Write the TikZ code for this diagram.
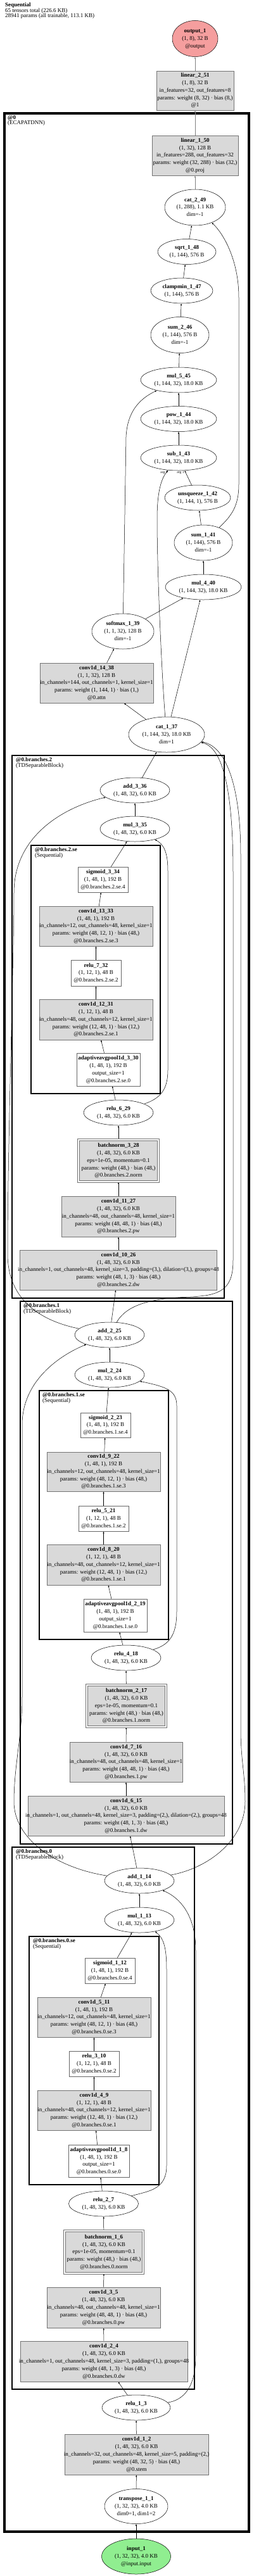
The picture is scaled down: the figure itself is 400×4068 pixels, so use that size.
\documentclass[tikz,border=0pt]{standalone}
\usepackage{fontspec}
\setmainfont{Liberation Serif}
\usetikzlibrary{arrows.meta,shapes.geometric,backgrounds}
\definecolor{outred}{RGB}{245,158,158}
\definecolor{ingreen}{RGB}{144,238,144}
\definecolor{layergray}{RGB}{217,217,217}
\newcommand{\nodetxt}[2]{\makebox[0pt]{\begin{tabular}{@{}c@{}}\textbf{#1}\\#2\end{tabular}}}
\tikzset{
  every node/.style={font=\fontsize{9}{11.8}\selectfont},
  sz/.style n args={2}{minimum width=#1pt, minimum height=#2pt},
  op/.style={draw, ellipse, inner sep=0pt, line width=0.5pt},
  layer/.style={draw=black!55, fill=layergray, inner sep=0pt, line width=0.6pt},
  act/.style={draw=black!60, fill=white, inner sep=0pt, line width=0.6pt},
  norm/.style={layer, double=white, double distance=2pt},
  cluster/.style={line width=2.2pt},
  group/.style={anchor=north west, align=left, inner sep=0pt, font=\fontsize{9}{8.6}\selectfont},
  argl/.style={inner sep=0pt, font=\fontsize{5.5}{6}\selectfont},
  ->/.style={-{Latex[length=3pt,width=2.4pt]}, line width=0.5pt},
  flow/.style={->, draw=black!50, line width=0.9pt}
}

\begin{document}
\begin{tikzpicture}[x=1pt,y=-1pt]
\useasboundingbox (0,0) rectangle (400,4068);

% Header
\node[group, font=\fontsize{9}{8.4}\selectfont] (title) at (8,4.5) {\textbf{Sequential}\\65 tensors total (226.6 KB)\\28941 params (all trainable, 113.1 KB)};

% Output head
\node[op, fill=outred, sz={72}{57}] (output1) at (308,61) {\nodetxt{output\_1}{(1, 8), 32 B\\@output}};
\node[layer, sz={122}{62}] (lin251) at (308,143) {\nodetxt{linear\_2\_51}{(1, 8), 32 B\\in\_features=32, out\_features=8\\params: weight (8, 32) · bias (8,)\\@1}};

% Statistics pooling and projection
\node[layer, sz={136}{63}] (lin150) at (308,245.5) {\nodetxt{linear\_1\_50}{(1, 32), 128 B\\in\_features=288, out\_features=32\\params: weight (32, 288) · bias (32,)\\@0.proj}};
\node[op, sz={96}{57}] (cat249) at (308,327.5) {\nodetxt{cat\_2\_49}{(1, 288), 1.1 KB\\dim=-1}};
\node[op, sz={92}{40}] (sqrt148) at (295,397.5) {\nodetxt{sqrt\_1\_48}{(1, 144), 576 B}};
\node[op, sz={98}{40}] (clamp147) at (287,459) {\nodetxt{clampmin\_1\_47}{(1, 144), 576 B}};
\node[op, sz={92}{57}] (sum246) at (284,529) {\nodetxt{sum\_2\_46}{(1, 144), 576 B\\dim=-1}};
\node[op, sz={120}{40}] (mul545) at (282,600) {\nodetxt{mul\_5\_45}{(1, 144, 32), 18.0 KB}};
\node[op, sz={120}{40}] (pow144) at (282,661.5) {\nodetxt{pow\_1\_44}{(1, 144, 32), 18.0 KB}};
\node[op, sz={120}{40}] (sub143) at (282,723) {\nodetxt{sub\_1\_43}{(1, 144, 32), 18.0 KB}};
\node[op, sz={104}{40}] (unsq142) at (312,786) {\nodetxt{unsqueeze\_1\_42}{(1, 144, 1), 576 B}};
\node[op, sz={92}{56}] (sum141) at (321,857) {\nodetxt{sum\_1\_41}{(1, 144), 576 B\\dim=-1}};
\node[op, sz={120}{40}] (mul440) at (321,927) {\nodetxt{mul\_4\_40}{(1, 144, 32), 18.0 KB}};
\node[op, sz={98}{56}] (soft139) at (194,997) {\nodetxt{softmax\_1\_39}{(1, 1, 32), 128 B\\dim=-1}};
\node[layer, sz={179}{63}] (conv1438) at (152.5,1078.5) {\nodetxt{conv1d\_14\_38}{(1, 1, 32), 128 B\\in\_channels=144, out\_channels=1, kernel\_size=1\\params: weight (1, 144, 1) · bias (1,)\\@0.attn}};
\node[op, sz={120}{56}] (cat137) at (263,1160) {\nodetxt{cat\_1\_37}{(1, 144, 32), 18.0 KB\\dim=1}};
\node[argl] (arg0) at (259,746) {arg 0};
\node[argl] (arg1) at (285,746) {arg 1};

% Branch 2
\node[op, sz={110}{40}] (add336) at (213,1248) {\nodetxt{add\_3\_36}{(1, 48, 32), 6.0 KB}};
\node[op, sz={110}{40}] (mul335) at (213,1309) {\nodetxt{mul\_3\_35}{(1, 48, 32), 6.0 KB}};
\node[act, sz={79}{40}] (sig334) at (162.5,1389) {\nodetxt{sigmoid\_3\_34}{(1, 48, 1), 192 B\\@0.branches.2.se.4}};
\node[layer, sz={179}{63}] (conv1333) at (151.5,1462.5) {\nodetxt{conv1d\_13\_33}{(1, 48, 1), 192 B\\in\_channels=12, out\_channels=48, kernel\_size=1\\params: weight (48, 12, 1) · bias (48,)\\@0.branches.2.se.3}};
\node[act, sz={79}{41}] (relu732) at (151.5,1536.5) {\nodetxt{relu\_7\_32}{(1, 12, 1), 48 B\\@0.branches.2.se.2}};
\node[layer, sz={179}{64}] (conv1231) at (151.5,1610) {\nodetxt{conv1d\_12\_31}{(1, 12, 1), 48 B\\in\_channels=48, out\_channels=12, kernel\_size=1\\params: weight (12, 48, 1) · bias (12,)\\@0.branches.2.se.1}};
\node[act, sz={100}{52}] (pool330) at (171,1689) {\nodetxt{adaptiveavgpool1d\_3\_30}{(1, 48, 1), 192 B\\output\_size=1\\@0.branches.2.se.0}};
\node[op, sz={110}{40}] (relu629) at (187,1757) {\nodetxt{relu\_6\_29}{(1, 48, 32), 6.0 KB}};
\node[norm, sz={126}{66}] (bn328) at (187,1833) {\nodetxt{batchnorm\_3\_28}{(1, 48, 32), 6.0 KB\\eps=1e-05, momentum=0.1\\params: weight (48,) · bias (48,)\\@0.branches.2.norm}};
\node[layer, sz={180}{64}] (conv1127) at (187,1921) {\nodetxt{conv1d\_11\_27}{(1, 48, 32), 6.0 KB\\in\_channels=48, out\_channels=48, kernel\_size=1\\params: weight (48, 48, 1) · bias (48,)\\@0.branches.2.pw}};
\node[layer, sz={311}{63}] (conv1026) at (187,2005.5) {\nodetxt{conv1d\_10\_26}{(1, 48, 32), 6.0 KB\\in\_channels=1, out\_channels=48, kernel\_size=3, padding=(3,), dilation=(3,), groups=48\\params: weight (48, 1, 3) · bias (48,)\\@0.branches.2.dw}};

% Branch 1
\node[op, sz={110}{40}] (add225) at (173,2108) {\nodetxt{add\_2\_25}{(1, 48, 32), 6.0 KB}};
\node[op, sz={110}{40}] (mul224) at (173,2171) {\nodetxt{mul\_2\_24}{(1, 48, 32), 6.0 KB}};
\node[act, sz={79}{39}] (sig223) at (166.5,2250.5) {\nodetxt{sigmoid\_2\_23}{(1, 48, 1), 192 B\\@0.branches.1.se.4}};
\node[layer, sz={179}{62}] (conv922) at (163.5,2324) {\nodetxt{conv1d\_9\_22}{(1, 48, 1), 192 B\\in\_channels=12, out\_channels=48, kernel\_size=1\\params: weight (48, 12, 1) · bias (48,)\\@0.branches.1.se.3}};
\node[act, sz={79}{40}] (relu521) at (163.5,2398) {\nodetxt{relu\_5\_21}{(1, 12, 1), 48 B\\@0.branches.1.se.2}};
\node[layer, sz={179}{64}] (conv820) at (163.5,2471) {\nodetxt{conv1d\_8\_20}{(1, 12, 1), 48 B\\in\_channels=48, out\_channels=12, kernel\_size=1\\params: weight (12, 48, 1) · bias (12,)\\@0.branches.1.se.1}};
\node[act, sz={100}{52}] (pool219) at (182,2551) {\nodetxt{adaptiveavgpool1d\_2\_19}{(1, 48, 1), 192 B\\output\_size=1\\@0.branches.1.se.0}};
\node[op, sz={110}{40}] (relu418) at (199,2618) {\nodetxt{relu\_4\_18}{(1, 48, 32), 6.0 KB}};
\node[norm, sz={125}{66}] (bn217) at (199.5,2694) {\nodetxt{batchnorm\_2\_17}{(1, 48, 32), 6.0 KB\\eps=1e-05, momentum=0.1\\params: weight (48,) · bias (48,)\\@0.branches.1.norm}};
\node[layer, sz={178}{63}] (conv716) at (199,2782.5) {\nodetxt{conv1d\_7\_16}{(1, 48, 32), 6.0 KB\\in\_channels=48, out\_channels=48, kernel\_size=1\\params: weight (48, 48, 1) · bias (48,)\\@0.branches.1.pw}};
\node[layer, sz={310}{63}] (conv615) at (199,2867.5) {\nodetxt{conv1d\_6\_15}{(1, 48, 32), 6.0 KB\\in\_channels=1, out\_channels=48, kernel\_size=3, padding=(2,), dilation=(2,), groups=48\\params: weight (48, 1, 3) · bias (48,)\\@0.branches.1.dw}};

% Branch 0
\node[op, sz={110}{40}] (add114) at (220,2970) {\nodetxt{add\_1\_14}{(1, 48, 32), 6.0 KB}};
\node[op, sz={110}{40}] (mul113) at (220,3032) {\nodetxt{mul\_1\_13}{(1, 48, 32), 6.0 KB}};
\node[act, sz={79}{40}] (sig112) at (173.5,3112) {\nodetxt{sigmoid\_1\_12}{(1, 48, 1), 192 B\\@0.branches.0.se.4}};
\node[layer, sz={179}{63}] (conv511) at (148.5,3185.5) {\nodetxt{conv1d\_5\_11}{(1, 48, 1), 192 B\\in\_channels=12, out\_channels=48, kernel\_size=1\\params: weight (48, 12, 1) · bias (48,)\\@0.branches.0.se.3}};
\node[act, sz={79}{40}] (relu310) at (148.5,3259) {\nodetxt{relu\_3\_10}{(1, 12, 1), 48 B\\@0.branches.0.se.2}};
\node[layer, sz={179}{63}] (conv49) at (148.5,3332.5) {\nodetxt{conv1d\_4\_9}{(1, 12, 1), 48 B\\in\_channels=48, out\_channels=12, kernel\_size=1\\params: weight (12, 48, 1) · bias (12,)\\@0.branches.0.se.1}};
\node[act, sz={96}{51}] (pool18) at (156,3412.5) {\nodetxt{adaptiveavgpool1d\_1\_8}{(1, 48, 1), 192 B\\output\_size=1\\@0.branches.0.se.0}};
\node[op, sz={110}{40}] (relu27) at (163.5,3480) {\nodetxt{relu\_2\_7}{(1, 48, 32), 6.0 KB}};
\node[norm, sz={124}{67}] (bn16) at (164,3556.5) {\nodetxt{batchnorm\_1\_6}{(1, 48, 32), 6.0 KB\\eps=1e-05, momentum=0.1\\params: weight (48,) · bias (48,)\\@0.branches.0.norm}};
\node[layer, sz={179}{64}] (conv35) at (163.5,3644) {\nodetxt{conv1d\_3\_5}{(1, 48, 32), 6.0 KB\\in\_channels=48, out\_channels=48, kernel\_size=1\\params: weight (48, 48, 1) · bias (48,)\\@0.branches.0.pw}};
\node[layer, sz={264}{64}] (conv24) at (164,3729) {\nodetxt{conv1d\_2\_4}{(1, 48, 32), 6.0 KB\\in\_channels=1, out\_channels=48, kernel\_size=3, padding=(1,), groups=48\\params: weight (48, 1, 3) · bias (48,)\\@0.branches.0.dw}};

% Stem and input
\node[op, sz={108}{40}] (relu13) at (215,3802) {\nodetxt{relu\_1\_3}{(1, 48, 32), 6.0 KB}};
\node[layer, sz={227}{64}] (conv12) at (215.5,3876) {\nodetxt{conv1d\_1\_2}{(1, 48, 32), 6.0 KB\\in\_channels=32, out\_channels=48, kernel\_size=5, padding=(2,)\\params: weight (48, 32, 5) · bias (48,)\\@0.stem}};
\node[op, sz={100}{55}] (trans11) at (215,3958) {\nodetxt{transpose\_1\_1}{(1, 32, 32), 4.0 KB\\dim0=1, dim1=2}};
\node[op, fill=ingreen, sz={109}{56}] (input1) at (215,4037) {\nodetxt{input\_1}{(1, 32, 32), 4.0 KB\\@input.input}};

% Cluster labels
\node[group] (g0) at (12,182) {\textbf{@0}\\(ECAPATDNN)};
\node[group] (gb2) at (25,1196) {\textbf{@0.branches.2}\\(TDSeparableBlock)};
\node[group] (gb2se) at (55,1338) {\textbf{@0.branches.2.se}\\(Sequential)};
\node[group] (gb1) at (37,2058) {\textbf{@0.branches.1}\\(TDSeparableBlock)};
\node[group] (gb1se) at (67,2199) {\textbf{@0.branches.1.se}\\(Sequential)};
\node[group] (gb0) at (25,2920) {\textbf{@0.branches.0}\\(TDSeparableBlock)};
\node[group] (gb0se) at (52,3061) {\textbf{@0.branches.0.se}\\(Sequential)};

\begin{scope}[on background layer]
% Clusters
\draw[cluster, line width=3.5pt] (7,179) rectangle (393,3998);
\draw[cluster, line width=2.8pt] (19,1193) rectangle (354,2050);
\draw[cluster] (49,1335) rectangle (253,1727);
\draw[cluster, line width=2.8pt] (32,2055) rectangle (367,2912);
\draw[cluster] (62,2196) rectangle (266,2589);
\draw[cluster, line width=2.8pt] (19,2917) rectangle (307,3773);
\draw[cluster] (46,3058) rectangle (251,3450);

% Stem
\draw[->] (input1) -- (trans11);
\draw[->] (trans11) -- (conv12);
\draw[->] (conv12) -- (relu13);
\draw[->] (relu13) -- (conv24);
\draw[->] (relu13) .. controls (290,3790) and (309,3770) .. (309,3720) -- (309,3080) .. controls (309,3020) and (280,2995) .. (add114);

% Branch 0
\draw[->] (conv24) -- (conv35);
\draw[->] (conv35) -- (bn16);
\draw[->] (bn16) -- (relu27);
\draw[->] (relu27) -- (pool18);
\draw[->] (relu27) .. controls (235,3460) and (263,3458) .. (263,3420) -- (263,3110) .. controls (263,3075) and (258,3060) .. (mul113);
\draw[->] (pool18) -- (conv49);
\draw[->] (conv49) -- (relu310);
\draw[->] (relu310) -- (conv511);
\draw[->] (conv511) -- (sig112);
\draw[->] (sig112) -- (mul113);
\draw[->] (mul113) -- (add114);
\draw[->] (add114) -- (conv615);
\draw[->] (add114) .. controls (90,2950) and (22,2905) .. (22,2845) .. controls (22,2790) and (35,2740) .. (35,2680) -- (35,2250) .. controls (35,2180) and (95,2140) .. (add225);
\draw[->] (add114) .. controls (330,2950) and (387,2905) .. (387,2845) .. controls (387,2800) and (380,2780) .. (380,2730) -- (380,1350) .. controls (380,1250) and (360,1180) .. (cat137);

% Branch 1
\draw[->] (conv615) -- (conv716);
\draw[->] (conv716) -- (bn217);
\draw[->] (bn217) -- (relu418);
\draw[->] (relu418) -- (pool219);
\draw[->] (relu418) .. controls (265,2598) and (279,2585) .. (279,2545) -- (279,2220) .. controls (279,2195) and (262,2190) .. (mul224);
\draw[->] (pool219) -- (conv820);
\draw[->] (conv820) -- (relu521);
\draw[->] (relu521) -- (conv922);
\draw[->] (conv922) -- (sig223);
\draw[->] (sig223) -- (mul224);
\draw[->] (mul224) -- (add225);
\draw[->] (add225) -- (conv1026);
\draw[->] (add225) .. controls (60,2085) and (12,2050) .. (12,1980) .. controls (12,1800) and (22,1520) .. (22,1410) .. controls (22,1320) and (100,1275) .. (add336);
\draw[->] (add225) .. controls (200,2060) and (240,2050) .. (300,2048) .. controls (350,2046) and (368,2035) .. (368,1990) -- (368,1380) .. controls (368,1240) and (350,1180) .. (cat137);

% Branch 2
\draw[->] (conv1026) -- (conv1127);
\draw[->] (conv1127) -- (bn328);
\draw[->] (bn328) -- (relu629);
\draw[->] (relu629) -- (pool330);
\draw[->] (relu629) .. controls (252,1735) and (265,1722) .. (265,1690) -- (265,1375) .. controls (265,1345) and (258,1333) .. (mul335);
\draw[->] (pool330) -- (conv1231);
\draw[->] (conv1231) -- (relu732);
\draw[->] (relu732) -- (conv1333);
\draw[->] (conv1333) -- (sig334);
\draw[->] (sig334) -- (mul335);
\draw[->] (mul335) -- (add336);
\draw[->] (add336) -- (cat137);

% Attentive statistics pooling
\draw[->] (cat137) -- (conv1438);
\draw[->] (cat137) -- (mul440);
\draw[->] (cat137) .. controls (255,1060) and (248,900) .. (248,820) .. controls (248,775) and (255,755) .. (sub143);
\draw[->] (conv1438) -- (soft139);
\draw[->] (soft139) -- (mul440);
\draw[->] (soft139) -- (199,690) .. controls (201,650) and (220,630) .. (mul545);
\draw[->] (mul440) -- (sum141);
\draw[->] (sum141) -- (unsq142);
\draw[->] (sum141) .. controls (365,815) and (377,800) .. (377,765) -- (377,470) .. controls (377,410) and (352,368) .. (cat249);
\draw[->] (unsq142) -- (sub143);
\draw[->] (sub143) -- (pow144);
\draw[->] (pow144) -- (mul545);
\draw[->] (mul545) -- (sum246);
\draw[->] (sum246) -- (clamp147);
\draw[->] (clamp147) -- (sqrt148);
\draw[->] (sqrt148) -- (cat249);

% Head
\draw[flow] (cat249) -- (lin150);
\draw[flow] (lin150) -- (lin251);
\draw[flow] (lin251) -- (output1);
\end{scope}

\end{tikzpicture}
\end{document}
